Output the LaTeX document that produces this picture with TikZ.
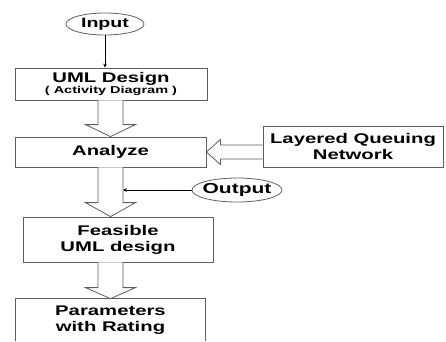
\documentclass[tikz,border=0pt]{standalone}
\usepackage{fontspec}
\setmainfont{Liberation Sans}[FakeStretch=1.45]
\usetikzlibrary{shapes.geometric,calc,arrows.meta}
\definecolor{linegray}{RGB}{95,95,95}
\newcommand\vhollow[4]{%
  \draw[hollow] ($(#1 |- #2.south)+(-12.5,0)$) -- ($(#1 |- #3.north)+(-12.5,-#4)$)
    -- ($(#1 |- #3.north)+(-25,-#4)$) -- (#1 |- #3.north) -- ($(#1 |- #3.north)+(25,-#4)$)
    -- ($(#1 |- #3.north)+(12.5,-#4)$) -- ($(#1 |- #2.south)+(12.5,0)$);}
\begin{document}
\begin{tikzpicture}[x=1pt,y=-1pt,
  box/.style={draw=linegray, line width=0.8pt, rectangle, inner sep=0pt, align=center,
    font=\bfseries\fontsize{14}{16}\selectfont},
  oval/.style={draw=linegray, line width=0.8pt, ellipse, inner sep=0pt,
    font=\bfseries\fontsize{14.5}{17}\selectfont},
  hollow/.style={draw=linegray, fill=white, line width=0.8pt, line join=miter},
  thinarrow/.style={-{Stealth[length=4pt,width=3.5pt]}, line width=0.6pt, black}]
\useasboundingbox (0,0) rectangle (446,341);

\node[oval, minimum width=78, minimum height=22, font=\bfseries\fontsize{13.5}{16}\selectfont] (input) at (105,24) {\makebox[0pt]{Input}};
\node[box, minimum width=192, minimum height=32] (uml) at (111,84)
  {UML Design\\[-5pt]{\fontsize{10}{11}\selectfont ( Activity Diagram )}};
\node[box, minimum width=191, minimum height=30] (analyze) at (110.5,152) {Analyze};
\node[box, minimum width=180, minimum height=41] (lqn) at (353,146.5) {Layered Queuing\\Network};
\node[oval, minimum width=90, minimum height=24] (output) at (237,190) {\makebox[0pt]{Output}};
\node[box, minimum width=190, minimum height=45] (feasible) at (118,239.5) {Feasible\\UML design};
\node[box, draw=none, minimum width=189, minimum height=42] (params) at (110.5,320) {Parameters\\with Rating};
\draw[linegray, line width=0.8pt] (params.south west) -- (params.north west)
  -- (params.north east) -- (params.south east);

\draw[thinarrow] (input.south) -- (input.south |- uml.north);

\vhollow{analyze}{uml}{analyze}{12}
\vhollow{analyze}{analyze}{feasible}{14}
\vhollow{params}{feasible}{params}{11}

\draw[hollow] ($(lqn.west |- analyze.east)+(0,-7)$) -- ($(analyze.east)+(14,-7)$)
  -- ($(analyze.east)+(14,-12.5)$) -- (analyze.east) -- ($(analyze.east)+(14,12.5)$)
  -- ($(analyze.east)+(14,7)$) -- ($(lqn.west |- analyze.east)+(0,7)$);

\coordinate (oh) at ($(analyze.south)+(12.5,0)$);
\draw[thinarrow] (output.west) -- (oh |- output.west);
\end{tikzpicture}
\end{document}
